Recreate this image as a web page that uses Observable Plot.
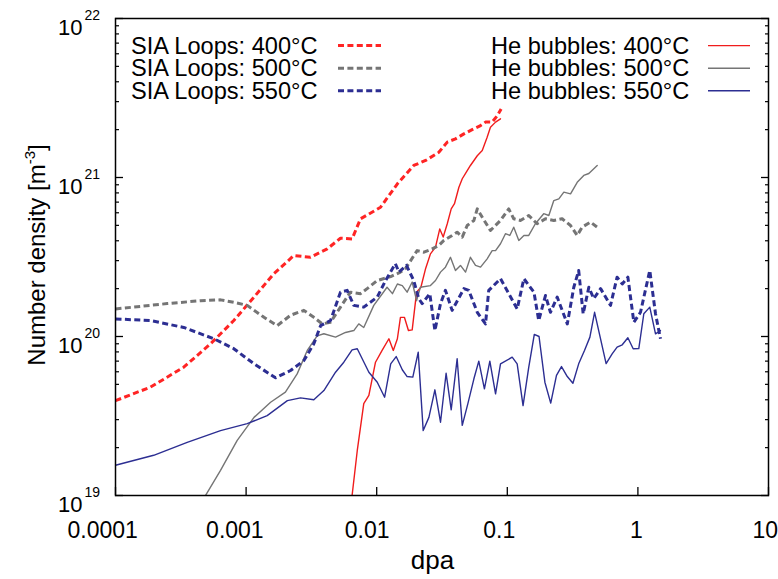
<!DOCTYPE html>
<html>
<head>
<meta charset="utf-8">
<script src="https://cdn.jsdelivr.net/npm/d3@7"></script>
<script src="https://cdn.jsdelivr.net/npm/@observablehq/plot@0.6"></script>
<style>
  html, body { margin: 0; padding: 0; background: #fff; }
  #chart { width: 778px; height: 579px; }
</style>
</head>
<body>
<div id="chart"></div>
<script>
// ---------------- data ----------------
const xTickValues = [1e-4, 1e-3, 1e-2, 1e-1, 1, 10];
const xTickLabels = ["0.0001", "0.001", "0.01", "0.1", "1", "10"];
const yTickValues = [1e19, 1e20, 1e21, 1e22];
const yTickBase = "10";
const yTickExps = ["19", "20", "21", "22"];
const yMinorTicks = [2e19,3e19,4e19,5e19,6e19,7e19,8e19,9e19,
                     2e20,3e20,4e20,5e20,6e20,7e20,8e20,9e20,
                     2e21,3e21,4e21,5e21,6e21,7e21,8e21,9e21];

// SIA loops 400 °C (dashed red)
const sia400Dpa = [1e-4, 1.85e-4, 3.33e-4, 5.34e-4, 8.05e-4, 1.15e-3, 1.63e-3, 2.32e-3, 3.11e-3, 4.18e-3, 5.28e-3, 6.48e-3, 7.52e-3, 1.07e-2, 1.44e-2, 1.92e-2, 2.37e-2, 2.99e-2, 3.47e-2, 4.01e-2, 4.65e-2, 5.38e-2, 6.24e-2, 6.81e-2, 7.66e-2, 8.38e-2, 8.97e-2];
const sia400N   = [3.95e19, 4.8e19, 6.41e19, 9.0e19, 1.26e20, 1.77e20, 2.48e20, 3.23e20, 3.15e20, 3.56e20, 4.15e20, 4.11e20, 5.5e20, 6.5e20, 9.12e20, 1.19e21, 1.28e21, 1.44e21, 1.67e21, 1.75e21, 1.88e21, 2.0e21, 2.12e21, 2.23e21, 2.23e21, 2.45e21, 2.7e21];

// SIA loops 500 °C (dashed grey)
const sia500Dpa = [1e-4, 2.49e-4, 4.48e-4, 6.37e-4, 8.05e-4, 1.02e-3, 1.37e-3, 1.73e-3, 2.19e-3, 2.77e-3, 3.30e-3, 3.83e-3, 4.43e-3, 5.28e-3, 6.29e-3, 7.52e-3, 8.45e-3, 1.01e-2, 1.28e-2, 1.52e-2, 1.66e-2, 2.04e-2, 2.30e-2, 2.66e-2, 2.99e-2, 3.27e-2, 3.78e-2, 4.13e-2, 4.52e-2, 4.93e-2, 5.55e-2, 5.89e-2, 6.43e-2, 7.43e-2, 8.87e-2, 0.1026, 0.112, 0.126, 0.146, 0.169, 0.196, 0.227, 0.263, 0.305, 0.343, 0.374, 0.434, 0.488];
const sia500N   = [1.49e20, 1.61e20, 1.68e20, 1.70e20, 1.64e20, 1.57e20, 1.32e20, 1.17e20, 1.36e20, 1.46e20, 1.32e20, 1.20e20, 1.23e20, 1.53e20, 1.90e20, 1.86e20, 2.0e20, 2.25e20, 2.38e20, 2.54e20, 2.67e20, 3.47e20, 3.39e20, 3.56e20, 3.74e20, 4.02e20, 4.32e20, 4.53e20, 4.22e20, 4.99e20, 5.37e20, 6.35e20, 5.62e20, 4.64e20, 5.37e20, 6.35e20, 5.50e20, 5.37e20, 5.77e20, 5.12e20, 5.50e20, 5.37e20, 5.50e20, 4.99e20, 4.32e20, 4.87e20, 5.24e20, 4.87e20];

// SIA loops 550 °C (dashed blue)
const sia550Dpa = [1e-4, 1.85e-4, 3.33e-4, 5.66e-4, 8.05e-4, 1.15e-3, 1.68e-3, 2.19e-3, 2.77e-3, 3.30e-3, 3.72e-3, 4.43e-3, 5.28e-3, 5.94e-3, 6.68e-3, 7.96e-3, 1.01e-2, 1.17e-2, 1.39e-2, 1.48e-2, 1.69e-2, 1.92e-2, 2.10e-2, 2.23e-2, 2.55e-2, 2.79e-2, 3.08e-2, 3.36e-2, 3.78e-2, 4.65e-2, 5.07e-2, 5.89e-2, 6.81e-2, 7.21e-2, 8.87e-2, 0.1026, 0.119, 0.134, 0.160, 0.174, 0.196, 0.214, 0.241, 0.288, 0.323, 0.352, 0.381, 0.421, 0.459, 0.518, 0.617, 0.693, 0.759, 0.838, 0.931, 1.047, 1.233, 1.364, 1.489];
const sia550N   = [1.29e20, 1.26e20, 1.14e20, 9.68e19, 8.38e19, 6.73e19, 5.50e19, 6.11e19, 7.06e19, 9.0e19, 1.17e20, 1.26e20, 1.90e20, 1.95e20, 1.57e20, 1.53e20, 1.77e20, 2.25e20, 2.87e20, 2.54e20, 2.80e20, 2.25e20, 1.73e20, 1.61e20, 1.86e20, 1.09e20, 1.61e20, 1.95e20, 1.46e20, 2.0e20, 1.95e20, 1.42e20, 1.20e20, 1.95e20, 2.31e20, 1.86e20, 1.49e20, 2.31e20, 1.90e20, 1.26e20, 1.81e20, 1.42e20, 1.77e20, 1.20e20, 2.04e20, 2.60e20, 1.39e20, 2.04e20, 1.73e20, 2.0e20, 1.57e20, 2.36e20, 2.14e20, 2.36e20, 1.23e20, 1.42e20, 2.60e20, 1.39e20, 9.68e19];

// He bubbles 400 °C (solid red)
const he400Dpa = [6.48e-3, 7.10e-3, 7.96e-3, 8.71e-3, 9.79e-3, 1.10e-2, 1.24e-2, 1.34e-2, 1.44e-2, 1.52e-2, 1.63e-2, 1.75e-2, 1.87e-2, 2.02e-2, 2.18e-2, 2.37e-2, 2.58e-2, 2.82e-2, 3.04e-2, 3.23e-2, 3.47e-2, 3.72e-2, 3.94e-2, 4.26e-2, 4.52e-2, 4.79e-2, 5.22e-2, 5.89e-2, 6.43e-2, 7.01e-2, 7.43e-2, 8.13e-2, 8.87e-2];
const he400N   = [1.0e19, 1.92e19, 3.78e19, 4.26e19, 6.89e19, 8.17e19, 9.68e19, 8.17e19, 9.68e19, 1.32e20, 1.32e20, 1.09e20, 1.10e20, 1.90e20, 2.04e20, 2.68e20, 3.31e20, 3.65e20, 4.75e20, 4.22e20, 5.12e20, 6.35e20, 6.84e20, 8.69e20, 9.82e20, 1.06e21, 1.19e21, 1.37e21, 1.48e21, 1.79e21, 2.07e21, 2.23e21, 2.34e21];

// He bubbles 500 °C (solid grey)
const he500Dpa = [4.89e-4, 6.37e-4, 8.55e-4, 1.15e-3, 1.54e-3, 2.00e-3, 2.46e-3, 2.94e-3, 3.50e-3, 3.94e-3, 4.84e-3, 5.77e-3, 6.68e-3, 7.29e-3, 7.96e-3, 9.50e-3, 1.20e-2, 1.32e-2, 1.44e-2, 1.57e-2, 1.71e-2, 1.87e-2, 2.02e-2, 2.16e-2, 2.58e-2, 2.82e-2, 3.08e-2, 3.36e-2, 3.67e-2, 4.01e-2, 4.38e-2, 4.79e-2, 5.22e-2, 5.71e-2, 6.24e-2, 7.01e-2, 7.66e-2, 8.13e-2, 8.87e-2, 9.68e-2, 0.1045, 0.112, 0.1225, 0.134, 0.146, 0.164, 0.190, 0.208, 0.227, 0.248, 0.271, 0.305, 0.343, 0.385, 0.421, 0.488];
const he500N   = [1.0e19, 1.44e19, 2.22e19, 3.10e19, 3.86e19, 4.47e19, 5.82e19, 8.17e19, 1.01e20, 1.04e20, 9.91e19, 1.06e20, 1.09e20, 1.20e20, 1.14e20, 1.57e20, 2.04e20, 1.86e20, 2.14e20, 2.09e20, 1.90e20, 2.20e20, 1.68e20, 2.04e20, 2.09e20, 2.25e20, 2.54e20, 2.73e20, 3.15e20, 2.60e20, 2.80e20, 2.54e20, 3.15e20, 2.80e20, 2.73e20, 3.08e20, 3.47e20, 3.47e20, 3.83e20, 4.43e20, 4.32e20, 4.87e20, 4.02e20, 4.32e20, 4.32e20, 5.12e20, 5.92e20, 5.77e20, 7.16e20, 7.34e20, 8.09e20, 7.89e20, 9.33e20, 1.03e21, 1.06e21, 1.19e21];

// He bubbles 550 °C (solid blue)
const he550Dpa = [1e-4, 1.96e-4, 3.54e-4, 6.37e-4, 1.02e-3, 1.45e-3, 2.07e-3, 2.61e-3, 3.30e-3, 3.94e-3, 4.84e-3, 5.60e-3, 6.48e-3, 7.10e-3, 8.71e-3, 1.01e-2, 1.15e-2, 1.28e-2, 1.41e-2, 1.57e-2, 1.71e-2, 1.89e-2, 2.08e-2, 2.27e-2, 2.51e-2, 2.79e-2, 3.08e-2, 3.40e-2, 3.72e-2, 4.13e-2, 4.52e-2, 4.99e-2, 5.55e-2, 6.05e-2, 6.68e-2, 7.35e-2, 8.13e-2, 8.87e-2, 0.109, 0.119, 0.132, 0.146, 0.161, 0.175, 0.194, 0.215, 0.238, 0.260, 0.288, 0.318, 0.352, 0.390, 0.429, 0.466, 0.571, 0.635, 0.693, 0.759, 0.838, 0.920, 1.016, 1.11, 1.233, 1.364, 1.489];
const he550N   = [1.55e19, 1.79e19, 2.16e19, 2.56e19, 2.83e19, 3.18e19, 3.95e19, 4.11e19, 4.0e19, 4.57e19, 5.96e19, 6.89e19, 8.24e19, 8.37e19, 5.96e19, 5.16e19, 4.15e19, 6.73e19, 7.48e19, 6.18e19, 5.60e19, 5.55e19, 7.96e19, 2.56e19, 3.10e19, 4.62e19, 2.89e19, 5.87e19, 3.46e19, 7.24e19, 2.76e19, 3.78e19, 5.42e19, 7.0e19, 4.69e19, 7.0e19, 4.36e19, 6.73e19, 7.41e19, 6.73e19, 3.68e19, 6.41e19, 1.03e20, 1.0e20, 5.16e19, 3.81e19, 5.69e19, 6.47e19, 5.60e19, 5.08e19, 6.73e19, 8.17e19, 9.91e19, 1.42e20, 6.76e19, 7.78e19, 8.57e19, 8.87e19, 9.82e19, 8.37e19, 8.4e19, 1.39e20, 1.53e20, 1.04e20, 1.09e20];

const siaNames = ["SIA Loops: 400°C", "SIA Loops: 500°C", "SIA Loops: 550°C"];
const heNames  = ["He bubbles: 400°C", "He bubbles: 500°C", "He bubbles: 550°C"];
const xTitle = "dpa";
const yTitle = "Number density [m";
const yTitleSup = "-3";
const yTitleEnd = "]";

// ---------------- styling ----------------
const RED = "#ff2424", RED_SOLID = "#f01c1c", GREY = "#757575", BLUE = "#2c2e92";
const FONT = "'Liberation Sans', Arial, Helvetica, sans-serif";
const DASH = "6,3.4";

const rows = (dpa, n) => dpa.map((x, i) => ({x, y: n[i]}));
const solidSeries = [
  {data: rows(he400Dpa, he400N), color: RED_SOLID},
  {data: rows(he500Dpa, he500N), color: GREY},
  {data: rows(he550Dpa, he550N), color: BLUE}
];
const dashedSeries = [
  {data: rows(sia400Dpa, sia400N), color: RED},
  {data: rows(sia500Dpa, sia500N), color: GREY},
  {data: rows(sia550Dpa, sia550N), color: BLUE}
];

const W = 778, H = 579;
const mL = 115, mR = 10, mT = 18, mB = 84;

const marks = [
  // inward ticks (gnuplot style), no text
  Plot.axisX(xTickValues, {anchor: "bottom", tickSize: -8, fill: "none", strokeWidth: 1.3, label: null}),
  Plot.axisY(yTickValues, {anchor: "left", tickSize: -8, fill: "none", strokeWidth: 1.3, label: null}),
  Plot.axisY(yMinorTicks, {anchor: "left", tickSize: -4, fill: "none", strokeWidth: 1.2, label: null}),
  Plot.axisY(yTickValues, {anchor: "right", tickSize: -8, fill: "none", strokeWidth: 1.3, label: null}),
  Plot.axisY(yMinorTicks, {anchor: "right", tickSize: -4, fill: "none", strokeWidth: 1.2, label: null}),
  // y tick labels: 10^n
  Plot.text(yTickValues, {y: d => d, frameAnchor: "left", text: () => yTickBase, textAnchor: "end",
    dx: -33, dy: 9, fontSize: 22, lineAnchor: "middle", fill: "black"}),
  Plot.text(yTickValues, {y: d => d, frameAnchor: "left", text: (d, i) => yTickExps[i], textAnchor: "start",
    dx: -31, dy: -3, fontSize: 14, lineAnchor: "middle", fill: "black"}),
  // x tick labels (gnuplot-like placement)
  ...xTickValues.map((v, i) => Plot.text([v], {x: d => d, frameAnchor: "bottom", text: () => xTickLabels[i],
    textAnchor: "start", dx: -8 * xTickLabels[i].length, dy: 42.7, lineAnchor: "bottom", fontSize: 23, fill: "black"})),
  // data
  ...solidSeries.map(s => Plot.line(s.data, {x: "x", y: "y", stroke: s.color, strokeWidth: 1.4, clip: true})),
  ...dashedSeries.map(s => Plot.line(s.data, {x: "x", y: "y", stroke: s.color, strokeWidth: 3,
    strokeDasharray: DASH, strokeLinecap: "butt", clip: true})),
  Plot.frame({stroke: "black", strokeWidth: 1.5})
];

const chart = Plot.plot({
  width: W, height: H,
  marginLeft: mL, marginRight: mR, marginTop: mT, marginBottom: mB,
  x: {type: "log", domain: [1e-4, 10]},
  y: {type: "log", domain: [1e19, 1e22]},
  style: {background: "white", color: "black", fontFamily: FONT, overflow: "visible"},
  marks
});
document.getElementById("chart").appendChild(chart);

// ---------------- titles & legend ----------------
const svg = d3.select(chart);
svg.append("text").attr("x", 432.5).attr("y", 569).attr("text-anchor", "middle")
  .attr("font-family", FONT).attr("font-size", 26).attr("fill", "black").text(xTitle);

const yt = svg.append("text").attr("transform", "translate(45,255) rotate(-90)")
  .attr("text-anchor", "middle").attr("font-family", FONT).attr("font-size", 24).attr("fill", "black");
yt.append("tspan").text(yTitle);
yt.append("tspan").attr("font-size", 15).attr("dy", -10).text(yTitleSup);
yt.append("tspan").attr("dy", 10).text(yTitleEnd);

const leg = svg.append("g").attr("font-family", FONT).attr("font-size", 23.6)
  .attr("fill", "black").attr("text-anchor", "start");
const rowY = [45.6, 68.2, 90.8];
const colors = [RED, GREY, BLUE];
const colorsSolid = [RED_SOLID, GREY, BLUE];
siaNames.forEach((name, i) => {
  leg.append("text").attr("x", 131).attr("y", rowY[i] + 8.2).attr("text-anchor", "start").text(name);
  leg.append("line").attr("x1", 338).attr("x2", 381).attr("y1", rowY[i]).attr("y2", rowY[i])
    .attr("stroke", colors[i]).attr("stroke-width", 3).attr("stroke-dasharray", DASH);
});
heNames.forEach((name, i) => {
  leg.append("text").attr("x", 491).attr("y", rowY[i] + 8.2).attr("text-anchor", "start").text(name);
  leg.append("line").attr("x1", 708).attr("x2", 750).attr("y1", rowY[i]).attr("y2", rowY[i])
    .attr("stroke", colorsSolid[i]).attr("stroke-width", 1.4);
});
</script>
</body>
</html>
